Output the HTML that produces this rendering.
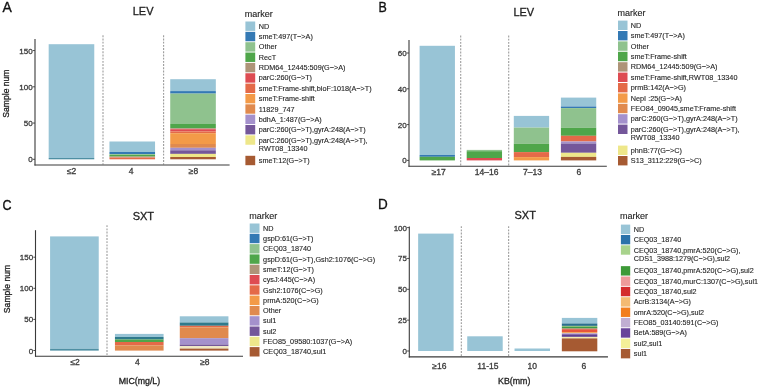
<!DOCTYPE html>
<html><head><meta charset="utf-8"><style>
html,body{margin:0;padding:0;background:#fff;width:760px;height:389px;overflow:hidden}
svg{display:block;font-family:"Liberation Sans", sans-serif;filter:blur(0.4px)}
</style></head><body>
<svg width="760" height="389" viewBox="0 0 760 389">
<rect x="0" y="0" width="760" height="389" fill="#fff"/>
<text x="0" y="0" font-size="15.2" fill="#111" stroke="#111" stroke-width="0.35" transform="translate(2.6,12.1) scale(0.92,1)">A</text>
<text x="143.1" y="15.0" font-size="11" text-anchor="middle" fill="#222" stroke="#222" stroke-width="0.3" >LEV</text>
<line x1="103.0" y1="35.3" x2="103.0" y2="164.4" stroke="#9c9c9c" stroke-width="1.1" stroke-dasharray="1.9 1.3"/>
<line x1="163.6" y1="35.3" x2="163.6" y2="164.4" stroke="#9c9c9c" stroke-width="1.1" stroke-dasharray="1.9 1.3"/>
<rect x="48.67" y="44.20" width="45.60" height="113.80" fill="#98C4D6"/>
<rect x="48.67" y="158.00" width="45.60" height="1.30" fill="#4E8FA3"/>
<rect x="109.45" y="141.50" width="45.60" height="10.50" fill="#98C4D6"/>
<rect x="109.45" y="152.00" width="45.60" height="2.10" fill="#3479B4"/>
<rect x="109.45" y="154.10" width="45.60" height="0.90" fill="#8FC28E"/>
<rect x="109.45" y="155.00" width="45.60" height="1.60" fill="#4FA64A"/>
<rect x="109.45" y="156.60" width="45.60" height="0.90" fill="#AE9478"/>
<rect x="109.45" y="157.50" width="45.60" height="1.80" fill="#E46A48"/>
<rect x="170.23" y="79.20" width="45.60" height="11.90" fill="#98C4D6"/>
<rect x="170.23" y="91.10" width="45.60" height="2.50" fill="#3479B4"/>
<rect x="170.23" y="93.60" width="45.60" height="30.40" fill="#8FC28E"/>
<rect x="170.23" y="124.00" width="45.60" height="4.20" fill="#4FA64A"/>
<rect x="170.23" y="128.20" width="45.60" height="1.00" fill="#AE9478"/>
<rect x="170.23" y="129.20" width="45.60" height="2.20" fill="#DE4C52"/>
<rect x="170.23" y="131.40" width="45.60" height="1.80" fill="#E46A48"/>
<rect x="170.23" y="133.20" width="45.60" height="10.80" fill="#F39A48"/>
<rect x="170.23" y="144.00" width="45.60" height="3.80" fill="#E08A4E"/>
<rect x="170.23" y="147.80" width="45.60" height="2.50" fill="#A491CC"/>
<rect x="170.23" y="150.30" width="45.60" height="3.60" fill="#74579A"/>
<rect x="170.23" y="153.90" width="45.60" height="3.10" fill="#EEE78A"/>
<rect x="170.23" y="157.00" width="45.60" height="2.30" fill="#A65A32"/>
<line x1="35" y1="39" x2="35" y2="165.5" stroke="#3a3a3a" stroke-width="1.1" />
<line x1="34.5" y1="165" x2="229.6" y2="165" stroke="#3a3a3a" stroke-width="1.1" />
<line x1="32.8" y1="159.3" x2="35" y2="159.3" stroke="#3a3a3a" stroke-width="0.9" />
<text x="32.7" y="162.3" font-size="8.0" text-anchor="end" fill="#3a3a3a" stroke="#3a3a3a" stroke-width="0.3" >0</text>
<line x1="32.8" y1="123.05000000000001" x2="35" y2="123.05000000000001" stroke="#3a3a3a" stroke-width="0.9" />
<text x="32.7" y="126.05000000000001" font-size="8.0" text-anchor="end" fill="#3a3a3a" stroke="#3a3a3a" stroke-width="0.3" >50</text>
<line x1="32.8" y1="86.80000000000001" x2="35" y2="86.80000000000001" stroke="#3a3a3a" stroke-width="0.9" />
<text x="32.7" y="89.80000000000001" font-size="8.0" text-anchor="end" fill="#3a3a3a" stroke="#3a3a3a" stroke-width="0.3" >100</text>
<line x1="32.8" y1="50.55000000000001" x2="35" y2="50.55000000000001" stroke="#3a3a3a" stroke-width="0.9" />
<text x="32.7" y="53.55000000000001" font-size="8.0" text-anchor="end" fill="#3a3a3a" stroke="#3a3a3a" stroke-width="0.3" >150</text>
<text x="71.66799999999999" y="174.0" font-size="8.5" text-anchor="middle" fill="#3a3a3a" stroke="#3a3a3a" stroke-width="0.3" >≤2</text>
<text x="131.048" y="174.0" font-size="8.5" text-anchor="middle" fill="#3a3a3a" stroke="#3a3a3a" stroke-width="0.3" >4</text>
<text x="193.42800000000003" y="174.0" font-size="8.5" text-anchor="middle" fill="#3a3a3a" stroke="#3a3a3a" stroke-width="0.3" >≥8</text>
<text x="0" y="0" font-size="8.6" text-anchor="middle" fill="#222" stroke="#222" stroke-width="0.3" transform="translate(9.2,93.6) rotate(-90)">Sample num</text>
<text x="244.8" y="16.6" font-size="9" text-anchor="start" fill="#222" stroke="#222" stroke-width="0.12" >marker</text>
<rect x="245.40" y="21.50" width="9.80" height="9.40" fill="#98C4D6"/>
<text x="258.8" y="28.7" font-size="7.25" text-anchor="start" fill="#262626" stroke="#262626" stroke-width="0.12" >ND</text>
<rect x="245.40" y="31.85" width="9.80" height="9.40" fill="#3479B4"/>
<text x="258.8" y="39.050000000000004" font-size="7.25" text-anchor="start" fill="#262626" stroke="#262626" stroke-width="0.12" >smeT:497(T−&gt;A)</text>
<rect x="245.40" y="42.20" width="9.80" height="9.40" fill="#8FC28E"/>
<text x="258.8" y="49.400000000000006" font-size="7.25" text-anchor="start" fill="#262626" stroke="#262626" stroke-width="0.12" >Other</text>
<rect x="245.40" y="52.55" width="9.80" height="9.40" fill="#4FA64A"/>
<text x="258.8" y="59.75000000000001" font-size="7.25" text-anchor="start" fill="#262626" stroke="#262626" stroke-width="0.12" >RecT</text>
<rect x="245.40" y="62.90" width="9.80" height="9.40" fill="#AE9478"/>
<text x="258.8" y="70.10000000000001" font-size="7.25" text-anchor="start" fill="#262626" stroke="#262626" stroke-width="0.12" >RDM64_12445:509(G−&gt;A)</text>
<rect x="245.40" y="73.25" width="9.80" height="9.40" fill="#DE4C52"/>
<text x="258.8" y="80.45" font-size="7.25" text-anchor="start" fill="#262626" stroke="#262626" stroke-width="0.12" >parC:260(G−&gt;T)</text>
<rect x="245.40" y="83.60" width="9.80" height="9.40" fill="#E46A48"/>
<text x="258.8" y="90.8" font-size="7.25" text-anchor="start" fill="#262626" stroke="#262626" stroke-width="0.12" >smeT:Frame-shift,bioF:1018(A−&gt;T)</text>
<rect x="245.40" y="93.95" width="9.80" height="9.40" fill="#F39A48"/>
<text x="258.8" y="101.14999999999999" font-size="7.25" text-anchor="start" fill="#262626" stroke="#262626" stroke-width="0.12" >smeT:Frame-shift</text>
<rect x="245.40" y="104.30" width="9.80" height="9.40" fill="#E08A4E"/>
<text x="258.8" y="111.49999999999999" font-size="7.25" text-anchor="start" fill="#262626" stroke="#262626" stroke-width="0.12" >11829_747</text>
<rect x="245.40" y="114.65" width="9.80" height="9.40" fill="#A491CC"/>
<text x="258.8" y="121.84999999999998" font-size="7.25" text-anchor="start" fill="#262626" stroke="#262626" stroke-width="0.12" >bdhA_1:487(G−&gt;A)</text>
<rect x="245.40" y="125.00" width="9.80" height="9.40" fill="#74579A"/>
<text x="258.8" y="132.19999999999996" font-size="7.25" text-anchor="start" fill="#262626" stroke="#262626" stroke-width="0.12" >parC:260(G−&gt;T),gyrA:248(A−&gt;T)</text>
<rect x="245.40" y="135.35" width="9.80" height="9.40" fill="#EEE78A"/>
<text x="258.8" y="142.54999999999995" font-size="7.25" text-anchor="start" fill="#262626" stroke="#262626" stroke-width="0.12" >parC:260(G−&gt;T),gyrA:248(A−&gt;T),</text>
<text x="258.8" y="150.94999999999996" font-size="7.25" text-anchor="start" fill="#262626" stroke="#262626" stroke-width="0.12" >RWT08_13340</text>
<rect x="245.40" y="155.80" width="9.80" height="9.40" fill="#A65A32"/>
<text x="258.8" y="162.99999999999994" font-size="7.25" text-anchor="start" fill="#262626" stroke="#262626" stroke-width="0.12" >smeT:12(G−&gt;T)</text>
<text x="0" y="0" font-size="15.0" fill="#111" stroke="#111" stroke-width="0.35" transform="translate(378.4,12.0) scale(0.83,1)">B</text>
<text x="523.8" y="16.2" font-size="11" text-anchor="middle" fill="#222" stroke="#222" stroke-width="0.3" >LEV</text>
<line x1="460.7" y1="35.5" x2="460.7" y2="165.70000000000002" stroke="#9c9c9c" stroke-width="1.1" stroke-dasharray="1.9 1.3"/>
<line x1="508.7" y1="35.5" x2="508.7" y2="165.70000000000002" stroke="#9c9c9c" stroke-width="1.1" stroke-dasharray="1.9 1.3"/>
<rect x="419.60" y="45.80" width="35.33" height="109.20" fill="#98C4D6"/>
<rect x="419.60" y="155.00" width="35.33" height="1.80" fill="#3479B4"/>
<rect x="419.60" y="156.80" width="35.33" height="3.60" fill="#4FA64A"/>
<rect x="466.70" y="149.90" width="35.33" height="1.30" fill="#8FC28E"/>
<rect x="466.70" y="151.20" width="35.33" height="6.80" fill="#4FA64A"/>
<rect x="466.70" y="158.00" width="35.33" height="2.40" fill="#DE4C52"/>
<rect x="513.80" y="115.90" width="35.33" height="11.70" fill="#98C4D6"/>
<rect x="513.80" y="127.60" width="35.33" height="16.20" fill="#8FC28E"/>
<rect x="513.80" y="143.80" width="35.33" height="8.30" fill="#4FA64A"/>
<rect x="513.80" y="152.10" width="35.33" height="5.00" fill="#E46A48"/>
<rect x="513.80" y="157.10" width="35.33" height="3.30" fill="#F39A48"/>
<rect x="560.90" y="97.60" width="35.33" height="8.90" fill="#98C4D6"/>
<rect x="560.90" y="106.50" width="35.33" height="1.60" fill="#3479B4"/>
<rect x="560.90" y="108.10" width="35.33" height="19.70" fill="#8FC28E"/>
<rect x="560.90" y="127.80" width="35.33" height="8.00" fill="#4FA64A"/>
<rect x="560.90" y="135.80" width="35.33" height="5.70" fill="#E46A48"/>
<rect x="560.90" y="141.50" width="35.33" height="2.00" fill="#A491CC"/>
<rect x="560.90" y="143.50" width="35.33" height="9.30" fill="#74579A"/>
<rect x="560.90" y="152.80" width="35.33" height="4.10" fill="#EEE78A"/>
<rect x="560.90" y="156.90" width="35.33" height="3.50" fill="#A65A32"/>
<line x1="409" y1="40" x2="409" y2="166.8" stroke="#3a3a3a" stroke-width="1.1" />
<line x1="408.5" y1="166.3" x2="606.82" y2="166.3" stroke="#3a3a3a" stroke-width="1.1" />
<line x1="406.8" y1="160.4" x2="409" y2="160.4" stroke="#3a3a3a" stroke-width="0.9" />
<text x="406.7" y="163.4" font-size="8.0" text-anchor="end" fill="#3a3a3a" stroke="#3a3a3a" stroke-width="0.3" >0</text>
<line x1="406.8" y1="124.60000000000001" x2="409" y2="124.60000000000001" stroke="#3a3a3a" stroke-width="0.9" />
<text x="406.7" y="127.60000000000001" font-size="8.0" text-anchor="end" fill="#3a3a3a" stroke="#3a3a3a" stroke-width="0.3" >20</text>
<line x1="406.8" y1="88.80000000000001" x2="409" y2="88.80000000000001" stroke="#3a3a3a" stroke-width="0.9" />
<text x="406.7" y="91.80000000000001" font-size="8.0" text-anchor="end" fill="#3a3a3a" stroke="#3a3a3a" stroke-width="0.3" >40</text>
<line x1="406.8" y1="53.0" x2="409" y2="53.0" stroke="#3a3a3a" stroke-width="0.9" />
<text x="406.7" y="56.0" font-size="8.0" text-anchor="end" fill="#3a3a3a" stroke="#3a3a3a" stroke-width="0.3" >60</text>
<text x="438.76" y="174.6" font-size="8.5" text-anchor="middle" fill="#3a3a3a" stroke="#3a3a3a" stroke-width="0.3" >≥17</text>
<text x="486.56" y="174.6" font-size="8.5" text-anchor="middle" fill="#3a3a3a" stroke="#3a3a3a" stroke-width="0.3" >14–16</text>
<text x="532.46" y="174.6" font-size="8.5" text-anchor="middle" fill="#3a3a3a" stroke="#3a3a3a" stroke-width="0.3" >7–13</text>
<text x="578.9599999999999" y="174.6" font-size="8.5" text-anchor="middle" fill="#3a3a3a" stroke="#3a3a3a" stroke-width="0.3" >6</text>
<text x="617.4" y="16.2" font-size="9" text-anchor="start" fill="#222" stroke="#222" stroke-width="0.12" >marker</text>
<rect x="618.00" y="20.60" width="9.50" height="9.40" fill="#98C4D6"/>
<text x="630.8" y="27.8" font-size="7.25" text-anchor="start" fill="#262626" stroke="#262626" stroke-width="0.12" >ND</text>
<rect x="618.00" y="31.00" width="9.50" height="9.40" fill="#3479B4"/>
<text x="630.8" y="38.2" font-size="7.25" text-anchor="start" fill="#262626" stroke="#262626" stroke-width="0.12" >smeT:497(T−&gt;A)</text>
<rect x="618.00" y="41.40" width="9.50" height="9.40" fill="#8FC28E"/>
<text x="630.8" y="48.6" font-size="7.25" text-anchor="start" fill="#262626" stroke="#262626" stroke-width="0.12" >Other</text>
<rect x="618.00" y="51.80" width="9.50" height="9.40" fill="#4FA64A"/>
<text x="630.8" y="59.0" font-size="7.25" text-anchor="start" fill="#262626" stroke="#262626" stroke-width="0.12" >smeT:Frame-shift</text>
<rect x="618.00" y="62.20" width="9.50" height="9.40" fill="#AE9478"/>
<text x="630.8" y="69.39999999999999" font-size="7.25" text-anchor="start" fill="#262626" stroke="#262626" stroke-width="0.12" >RDM64_12445:509(G−&gt;A)</text>
<rect x="618.00" y="72.60" width="9.50" height="9.40" fill="#DE4C52"/>
<text x="630.8" y="79.8" font-size="7.25" text-anchor="start" fill="#262626" stroke="#262626" stroke-width="0.12" >smeT:Frame-shift,RWT08_13340</text>
<rect x="618.00" y="83.00" width="9.50" height="9.40" fill="#E46A48"/>
<text x="630.8" y="90.2" font-size="7.25" text-anchor="start" fill="#262626" stroke="#262626" stroke-width="0.12" >prmB:142(A−&gt;G)</text>
<rect x="618.00" y="93.40" width="9.50" height="9.40" fill="#F39A48"/>
<text x="630.8" y="100.60000000000001" font-size="7.25" text-anchor="start" fill="#262626" stroke="#262626" stroke-width="0.12" >NepI :25(G−&gt;A)</text>
<rect x="618.00" y="103.80" width="9.50" height="9.40" fill="#E08A4E"/>
<text x="630.8" y="111.00000000000001" font-size="7.25" text-anchor="start" fill="#262626" stroke="#262626" stroke-width="0.12" >FEO84_09045,smeT:Frame-shift</text>
<rect x="618.00" y="114.20" width="9.50" height="9.40" fill="#A491CC"/>
<text x="630.8" y="121.40000000000002" font-size="7.25" text-anchor="start" fill="#262626" stroke="#262626" stroke-width="0.12" >parC:260(G−&gt;T),gyrA:248(A−&gt;T)</text>
<rect x="618.00" y="124.60" width="9.50" height="9.40" fill="#74579A"/>
<text x="630.8" y="131.8" font-size="7.25" text-anchor="start" fill="#262626" stroke="#262626" stroke-width="0.12" >parC:260(G−&gt;T),gyrA:248(A−&gt;T),</text>
<text x="630.8" y="140.20000000000002" font-size="7.25" text-anchor="start" fill="#262626" stroke="#262626" stroke-width="0.12" >RWT08_13340</text>
<rect x="618.00" y="145.60" width="9.50" height="9.40" fill="#EEE78A"/>
<text x="630.8" y="152.8" font-size="7.25" text-anchor="start" fill="#262626" stroke="#262626" stroke-width="0.12" >phnB:77(G−&gt;C)</text>
<rect x="618.00" y="156.00" width="9.50" height="9.40" fill="#A65A32"/>
<text x="630.8" y="163.20000000000002" font-size="7.25" text-anchor="start" fill="#262626" stroke="#262626" stroke-width="0.12" >S13_3112:229(G−&gt;C)</text>
<text x="0" y="0" font-size="15.4" fill="#111" stroke="#111" stroke-width="0.35" transform="translate(2.5,209.8) scale(0.81,1)">C</text>
<text x="143.4" y="219.5" font-size="11" text-anchor="middle" fill="#222" stroke="#222" stroke-width="0.3" >SXT</text>
<line x1="107.0" y1="225.2" x2="107.0" y2="355.59999999999997" stroke="#9c9c9c" stroke-width="1.1" stroke-dasharray="1.9 1.3"/>
<rect x="50.09" y="236.40" width="48.64" height="112.40" fill="#98C4D6"/>
<rect x="50.09" y="348.80" width="48.64" height="1.80" fill="#4E8FA3"/>
<rect x="114.94" y="333.90" width="48.64" height="3.10" fill="#98C4D6"/>
<rect x="114.94" y="337.00" width="48.64" height="2.50" fill="#2F7A8C"/>
<rect x="114.94" y="339.50" width="48.64" height="2.50" fill="#4FA64A"/>
<rect x="114.94" y="342.00" width="48.64" height="3.30" fill="#E46A48"/>
<rect x="114.94" y="345.30" width="48.64" height="5.30" fill="#E08A4E"/>
<rect x="179.79" y="316.30" width="48.64" height="6.20" fill="#98C4D6"/>
<rect x="179.79" y="322.50" width="48.64" height="3.30" fill="#2F7A8C"/>
<rect x="179.79" y="325.80" width="48.64" height="1.50" fill="#E46A48"/>
<rect x="179.79" y="327.30" width="48.64" height="10.90" fill="#E08A4E"/>
<rect x="179.79" y="338.20" width="48.64" height="6.30" fill="#A491CC"/>
<rect x="179.79" y="344.50" width="48.64" height="1.70" fill="#74579A"/>
<rect x="179.79" y="346.20" width="48.64" height="2.40" fill="#F0E8C0"/>
<rect x="179.79" y="348.60" width="48.64" height="2.00" fill="#A65A32"/>
<line x1="35.5" y1="230.2" x2="35.5" y2="356.7" stroke="#3a3a3a" stroke-width="1.1" />
<line x1="35.0" y1="356.2" x2="243.01999999999998" y2="356.2" stroke="#3a3a3a" stroke-width="1.1" />
<line x1="33.3" y1="350.5" x2="35.5" y2="350.5" stroke="#3a3a3a" stroke-width="0.9" />
<text x="33.2" y="353.5" font-size="8.0" text-anchor="end" fill="#3a3a3a" stroke="#3a3a3a" stroke-width="0.3" >0</text>
<line x1="33.3" y1="319.4" x2="35.5" y2="319.4" stroke="#3a3a3a" stroke-width="0.9" />
<text x="33.2" y="322.4" font-size="8.0" text-anchor="end" fill="#3a3a3a" stroke="#3a3a3a" stroke-width="0.3" >50</text>
<line x1="33.3" y1="288.3" x2="35.5" y2="288.3" stroke="#3a3a3a" stroke-width="0.9" />
<text x="33.2" y="291.3" font-size="8.0" text-anchor="end" fill="#3a3a3a" stroke="#3a3a3a" stroke-width="0.3" >100</text>
<line x1="33.3" y1="257.2" x2="35.5" y2="257.2" stroke="#3a3a3a" stroke-width="0.9" />
<text x="33.2" y="260.2" font-size="8.0" text-anchor="end" fill="#3a3a3a" stroke="#3a3a3a" stroke-width="0.3" >150</text>
<text x="75.11" y="364.7" font-size="8.5" text-anchor="middle" fill="#3a3a3a" stroke="#3a3a3a" stroke-width="0.3" >≤2</text>
<text x="137.26" y="364.7" font-size="8.5" text-anchor="middle" fill="#3a3a3a" stroke="#3a3a3a" stroke-width="0.3" >4</text>
<text x="204.91" y="364.7" font-size="8.5" text-anchor="middle" fill="#3a3a3a" stroke="#3a3a3a" stroke-width="0.3" >≥8</text>
<text x="0" y="0" font-size="8.6" text-anchor="middle" fill="#222" stroke="#222" stroke-width="0.3" transform="translate(10.0,289.0) rotate(-90)">Sample num</text>
<text x="139.4" y="384.1" font-size="8.8" text-anchor="middle" fill="#222" stroke="#222" stroke-width="0.3" >MIC(mg/L)</text>
<text x="249.3" y="219.4" font-size="9" text-anchor="start" fill="#222" stroke="#222" stroke-width="0.12" >marker</text>
<rect x="249.70" y="223.50" width="9.80" height="9.40" fill="#98C4D6"/>
<text x="263.1" y="230.7" font-size="7.25" text-anchor="start" fill="#262626" stroke="#262626" stroke-width="0.12" >ND</text>
<rect x="249.70" y="233.80" width="9.80" height="9.40" fill="#3479B4"/>
<text x="263.1" y="241.0" font-size="7.25" text-anchor="start" fill="#262626" stroke="#262626" stroke-width="0.12" >gspD:61(G−&gt;T)</text>
<rect x="249.70" y="244.10" width="9.80" height="9.40" fill="#8FC28E"/>
<text x="263.1" y="251.3" font-size="7.25" text-anchor="start" fill="#262626" stroke="#262626" stroke-width="0.12" >CEQ03_18740</text>
<rect x="249.70" y="254.40" width="9.80" height="9.40" fill="#4FA64A"/>
<text x="263.1" y="261.6" font-size="7.25" text-anchor="start" fill="#262626" stroke="#262626" stroke-width="0.12" >gspD:61(G−&gt;T),Gsh2:1076(C−&gt;G)</text>
<rect x="249.70" y="264.70" width="9.80" height="9.40" fill="#AE9478"/>
<text x="263.1" y="271.90000000000003" font-size="7.25" text-anchor="start" fill="#262626" stroke="#262626" stroke-width="0.12" >smeT:12(G−&gt;T)</text>
<rect x="249.70" y="275.00" width="9.80" height="9.40" fill="#DE4C52"/>
<text x="263.1" y="282.20000000000005" font-size="7.25" text-anchor="start" fill="#262626" stroke="#262626" stroke-width="0.12" >cysJ:445(C−&gt;A)</text>
<rect x="249.70" y="285.30" width="9.80" height="9.40" fill="#E46A48"/>
<text x="263.1" y="292.50000000000006" font-size="7.25" text-anchor="start" fill="#262626" stroke="#262626" stroke-width="0.12" >Gsh2:1076(C−&gt;G)</text>
<rect x="249.70" y="295.60" width="9.80" height="9.40" fill="#F39A48"/>
<text x="263.1" y="302.80000000000007" font-size="7.25" text-anchor="start" fill="#262626" stroke="#262626" stroke-width="0.12" >prmA:520(C−&gt;G)</text>
<rect x="249.70" y="305.90" width="9.80" height="9.40" fill="#E08A4E"/>
<text x="263.1" y="313.1000000000001" font-size="7.25" text-anchor="start" fill="#262626" stroke="#262626" stroke-width="0.12" >Other</text>
<rect x="249.70" y="316.20" width="9.80" height="9.40" fill="#A491CC"/>
<text x="263.1" y="323.4000000000001" font-size="7.25" text-anchor="start" fill="#262626" stroke="#262626" stroke-width="0.12" >sul1</text>
<rect x="249.70" y="326.50" width="9.80" height="9.40" fill="#74579A"/>
<text x="263.1" y="333.7000000000001" font-size="7.25" text-anchor="start" fill="#262626" stroke="#262626" stroke-width="0.12" >sul2</text>
<rect x="249.70" y="336.80" width="9.80" height="9.40" fill="#EEE78A"/>
<text x="263.1" y="344.0000000000001" font-size="7.25" text-anchor="start" fill="#262626" stroke="#262626" stroke-width="0.12" >FEO85_09580:1037(G−&gt;A)</text>
<rect x="249.70" y="347.10" width="9.80" height="9.40" fill="#A65A32"/>
<text x="263.1" y="354.3000000000001" font-size="7.25" text-anchor="start" fill="#262626" stroke="#262626" stroke-width="0.12" >CEQ03_18740,sul1</text>
<text x="0" y="0" font-size="15.0" fill="#111" stroke="#111" stroke-width="0.35" transform="translate(378.0,209.4) scale(0.9,1)">D</text>
<text x="525.2" y="219.3" font-size="11" text-anchor="middle" fill="#222" stroke="#222" stroke-width="0.3" >SXT</text>
<line x1="461.33000000000004" y1="226.2" x2="461.33000000000004" y2="356.29999999999995" stroke="#9c9c9c" stroke-width="1.1" stroke-dasharray="1.9 1.3"/>
<line x1="508.63" y1="226.2" x2="508.63" y2="356.29999999999995" stroke="#9c9c9c" stroke-width="1.1" stroke-dasharray="1.9 1.3"/>
<rect x="418.14" y="233.60" width="35.47" height="117.40" fill="#98C4D6"/>
<rect x="467.24" y="336.30" width="35.47" height="14.70" fill="#98C4D6"/>
<rect x="514.54" y="348.50" width="35.47" height="2.50" fill="#98C4D6"/>
<rect x="561.84" y="317.90" width="35.47" height="5.60" fill="#98C4D6"/>
<rect x="561.84" y="323.50" width="35.47" height="2.40" fill="#2B6F8E"/>
<rect x="561.84" y="325.90" width="35.47" height="1.10" fill="#8CC07A"/>
<rect x="561.84" y="327.00" width="35.47" height="1.60" fill="#3D9A48"/>
<rect x="561.84" y="328.60" width="35.47" height="1.40" fill="#E07060"/>
<rect x="561.84" y="330.00" width="35.47" height="2.00" fill="#E8553A"/>
<rect x="561.84" y="332.00" width="35.47" height="1.20" fill="#F2A860"/>
<rect x="561.84" y="333.20" width="35.47" height="1.10" fill="#B8A0C8"/>
<rect x="561.84" y="334.30" width="35.47" height="2.60" fill="#5E3F92"/>
<rect x="561.84" y="336.90" width="35.47" height="1.50" fill="#F2EBB0"/>
<rect x="561.84" y="338.40" width="35.47" height="12.90" fill="#A65A32"/>
<line x1="409.3" y1="226.6" x2="409.3" y2="357.4" stroke="#3a3a3a" stroke-width="1.1" />
<line x1="408.8" y1="356.9" x2="607.96" y2="356.9" stroke="#3a3a3a" stroke-width="1.1" />
<line x1="407.1" y1="351.0" x2="409.3" y2="351.0" stroke="#3a3a3a" stroke-width="0.9" />
<text x="407.0" y="354.0" font-size="8.0" text-anchor="end" fill="#3a3a3a" stroke="#3a3a3a" stroke-width="0.3" >0</text>
<line x1="407.1" y1="320.15" x2="409.3" y2="320.15" stroke="#3a3a3a" stroke-width="0.9" />
<text x="407.0" y="323.15" font-size="8.0" text-anchor="end" fill="#3a3a3a" stroke="#3a3a3a" stroke-width="0.3" >25</text>
<line x1="407.1" y1="289.3" x2="409.3" y2="289.3" stroke="#3a3a3a" stroke-width="0.9" />
<text x="407.0" y="292.3" font-size="8.0" text-anchor="end" fill="#3a3a3a" stroke="#3a3a3a" stroke-width="0.3" >50</text>
<line x1="407.1" y1="258.45" x2="409.3" y2="258.45" stroke="#3a3a3a" stroke-width="0.9" />
<text x="407.0" y="261.45" font-size="8.0" text-anchor="end" fill="#3a3a3a" stroke="#3a3a3a" stroke-width="0.3" >75</text>
<line x1="407.1" y1="227.6" x2="409.3" y2="227.6" stroke="#3a3a3a" stroke-width="0.9" />
<text x="407.0" y="230.6" font-size="8.0" text-anchor="end" fill="#3a3a3a" stroke="#3a3a3a" stroke-width="0.3" >100</text>
<text x="439.38" y="368.5" font-size="8.5" text-anchor="middle" fill="#3a3a3a" stroke="#3a3a3a" stroke-width="0.3" >≥16</text>
<text x="487.88" y="368.5" font-size="8.5" text-anchor="middle" fill="#3a3a3a" stroke="#3a3a3a" stroke-width="0.3" >11-15</text>
<text x="532.28" y="368.5" font-size="8.5" text-anchor="middle" fill="#3a3a3a" stroke="#3a3a3a" stroke-width="0.3" >10</text>
<text x="583.7800000000001" y="368.5" font-size="8.5" text-anchor="middle" fill="#3a3a3a" stroke="#3a3a3a" stroke-width="0.3" >6</text>
<text x="514.2" y="384.3" font-size="8.8" text-anchor="middle" fill="#222" stroke="#222" stroke-width="0.3" >KB(mm)</text>
<text x="620.1" y="218.9" font-size="9" text-anchor="start" fill="#222" stroke="#222" stroke-width="0.12" >marker</text>
<rect x="620.90" y="224.60" width="9.30" height="9.40" fill="#98C4D6"/>
<text x="633.8" y="231.79999999999998" font-size="7.2" text-anchor="start" fill="#262626" stroke="#262626" stroke-width="0.12" >ND</text>
<rect x="620.90" y="234.95" width="9.30" height="9.40" fill="#2A72AA"/>
<text x="633.8" y="242.14999999999998" font-size="7.2" text-anchor="start" fill="#262626" stroke="#262626" stroke-width="0.12" >CEQ03_18740</text>
<rect x="620.90" y="245.30" width="9.30" height="9.40" fill="#A8D38C"/>
<text x="633.8" y="252.49999999999997" font-size="7.2" text-anchor="start" fill="#262626" stroke="#262626" stroke-width="0.12" >CEQ03_18740,pmrA:520(C−&gt;G),</text>
<text x="633.8" y="260.9" font-size="7.2" text-anchor="start" fill="#262626" stroke="#262626" stroke-width="0.12" >CDS1_3988:1279(C−&gt;G),sul2</text>
<rect x="620.90" y="266.15" width="9.30" height="9.40" fill="#3D9A38"/>
<text x="633.8" y="273.34999999999997" font-size="7.2" text-anchor="start" fill="#262626" stroke="#262626" stroke-width="0.12" >CEQ03_18740,pmrA:520(C−&gt;G),sul2</text>
<rect x="620.90" y="276.50" width="9.30" height="9.40" fill="#EE9A9A"/>
<text x="633.8" y="283.7" font-size="7.2" text-anchor="start" fill="#262626" stroke="#262626" stroke-width="0.12" >CEQ03_18740,murC:1307(C−&gt;G),sul1</text>
<rect x="620.90" y="286.85" width="9.30" height="9.40" fill="#D42A2C"/>
<text x="633.8" y="294.05" font-size="7.2" text-anchor="start" fill="#262626" stroke="#262626" stroke-width="0.12" >CEQ03_18740,sul2</text>
<rect x="620.90" y="297.20" width="9.30" height="9.40" fill="#F4BA72"/>
<text x="633.8" y="304.40000000000003" font-size="7.2" text-anchor="start" fill="#262626" stroke="#262626" stroke-width="0.12" >AcrB:3134(A−&gt;G)</text>
<rect x="620.90" y="307.55" width="9.30" height="9.40" fill="#F27E1E"/>
<text x="633.8" y="314.75000000000006" font-size="7.2" text-anchor="start" fill="#262626" stroke="#262626" stroke-width="0.12" >omrA:520(C−&gt;G),sul2</text>
<rect x="620.90" y="317.90" width="9.30" height="9.40" fill="#C0AED2"/>
<text x="633.8" y="325.1000000000001" font-size="7.2" text-anchor="start" fill="#262626" stroke="#262626" stroke-width="0.12" >FEO85_03140:591(C−&gt;G)</text>
<rect x="620.90" y="328.25" width="9.30" height="9.40" fill="#68449A"/>
<text x="633.8" y="335.4500000000001" font-size="7.2" text-anchor="start" fill="#262626" stroke="#262626" stroke-width="0.12" >BetA:589(G−&gt;A)</text>
<rect x="620.90" y="338.60" width="9.30" height="9.40" fill="#F4F098"/>
<text x="633.8" y="345.8000000000001" font-size="7.2" text-anchor="start" fill="#262626" stroke="#262626" stroke-width="0.12" >sul2,sul1</text>
<rect x="620.90" y="348.95" width="9.30" height="9.40" fill="#A65A32"/>
<text x="633.8" y="356.15000000000015" font-size="7.2" text-anchor="start" fill="#262626" stroke="#262626" stroke-width="0.12" >sul1</text>
</svg></body></html>
